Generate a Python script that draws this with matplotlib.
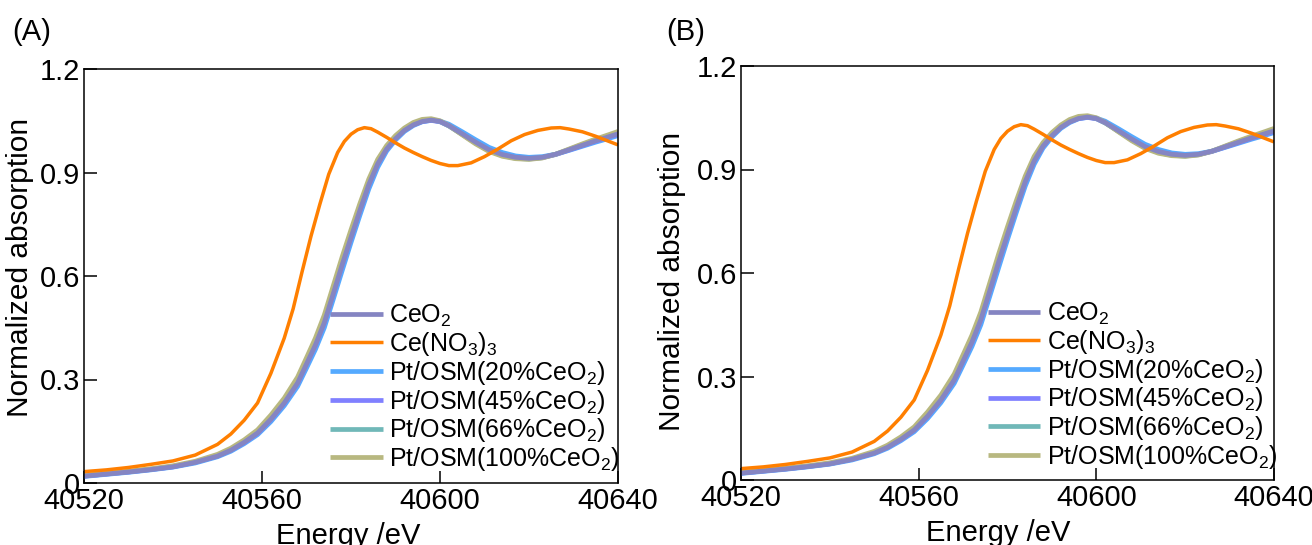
import numpy as np
import matplotlib
matplotlib.use("Agg")
import matplotlib.pyplot as plt

# ================== DATA ==================

energy = [40520, 40525, 40530, 40535, 40540, 40545, 40550, 40553, 40556, 40559,
          40562, 40565, 40568, 40570, 40572, 40574, 40576, 40578, 40580, 40582,
          40584, 40586, 40588, 40590, 40592, 40594, 40596, 40598, 40600, 40602,
          40605, 40608, 40611, 40614, 40617, 40620, 40623, 40626, 40629, 40632,
          40635, 40638, 40640]

ceo2 = [0.020, 0.026, 0.032, 0.039, 0.047, 0.060, 0.078, 0.095, 0.118, 0.145,
        0.185, 0.232, 0.290, 0.345, 0.400, 0.465, 0.548, 0.632, 0.712, 0.790,
        0.865, 0.925, 0.968, 0.998, 1.022, 1.038, 1.048, 1.052, 1.048, 1.036,
        1.012, 0.988, 0.966, 0.952, 0.944, 0.941, 0.944, 0.953, 0.966, 0.979,
        0.992, 1.004, 1.012]

osm_20 = [0.019, 0.025, 0.031, 0.038, 0.046, 0.058, 0.076, 0.092, 0.114, 0.140,
          0.178, 0.224, 0.280, 0.333, 0.387, 0.450, 0.532, 0.615, 0.697, 0.776,
          0.852, 0.915, 0.962, 0.994, 1.019, 1.036, 1.047, 1.051, 1.049, 1.040,
          1.018, 0.995, 0.973, 0.958, 0.948, 0.944, 0.946, 0.953, 0.964, 0.976,
          0.988, 0.999, 1.007]

osm_45 = [0.020, 0.026, 0.032, 0.039, 0.047, 0.060, 0.078, 0.095, 0.117, 0.144,
          0.184, 0.231, 0.289, 0.344, 0.399, 0.464, 0.547, 0.631, 0.711, 0.789,
          0.864, 0.924, 0.967, 0.998, 1.022, 1.038, 1.048, 1.051, 1.047, 1.035,
          1.011, 0.987, 0.965, 0.951, 0.943, 0.940, 0.943, 0.952, 0.965, 0.978,
          0.991, 1.003, 1.010]

osm_66 = [0.021, 0.027, 0.033, 0.040, 0.048, 0.061, 0.080, 0.097, 0.120, 0.148,
          0.189, 0.237, 0.296, 0.351, 0.407, 0.473, 0.556, 0.640, 0.720, 0.797,
          0.870, 0.929, 0.971, 1.001, 1.024, 1.040, 1.050, 1.053, 1.048, 1.035,
          1.010, 0.985, 0.963, 0.949, 0.941, 0.939, 0.943, 0.953, 0.967, 0.981,
          0.995, 1.007, 1.015]

osm_100 = [0.022, 0.028, 0.034, 0.041, 0.050, 0.063, 0.083, 0.101, 0.125, 0.154,
           0.197, 0.246, 0.307, 0.363, 0.420, 0.487, 0.571, 0.655, 0.734, 0.810,
           0.881, 0.938, 0.978, 1.007, 1.029, 1.045, 1.054, 1.056, 1.050, 1.036,
           1.009, 0.983, 0.961, 0.947, 0.940, 0.938, 0.942, 0.953, 0.968, 0.983,
           0.997, 1.010, 1.019]

# Ce(NO3)3 has its own, finer energy grid around the white line
energy_nitrate = [40520, 40525, 40530, 40535, 40540, 40545, 40550, 40553, 40556,
                  40559, 40562, 40565, 40567, 40569, 40571, 40573, 40575, 40577,
                  40578.5, 40580, 40581.5, 40583, 40584.5, 40586, 40588, 40590,
                  40592, 40594, 40596, 40598, 40600, 40602, 40604, 40607, 40610,
                  40613, 40616, 40619, 40622, 40625, 40627, 40629, 40632, 40635,
                  40638, 40640]

ce_nitrate = [0.033, 0.038, 0.045, 0.054, 0.064, 0.081, 0.112, 0.142, 0.182,
              0.232, 0.318, 0.420, 0.505, 0.612, 0.715, 0.808, 0.895, 0.958,
              0.990, 1.011, 1.024, 1.030, 1.027, 1.017, 1.002, 0.986,
              0.971, 0.958, 0.946, 0.935, 0.926, 0.920, 0.920, 0.928, 0.946,
              0.968, 0.992, 1.010, 1.022, 1.029, 1.030, 1.026, 1.018, 1.005,
              0.990, 0.980]

labels = ["CeO$_2$", "Ce(NO$_3$)$_3$", "Pt/OSM(20%CeO$_2$)",
          "Pt/OSM(45%CeO$_2$)", "Pt/OSM(66%CeO$_2$)", "Pt/OSM(100%CeO$_2$)"]
colors = ["#8585c2", "#ff7f00", "#55aaff", "#8080ff", "#70b8b8", "#b8b880"]

x_ticks = [40520, 40560, 40600, 40640]
y_ticks = [0, 0.3, 0.6, 0.9, 1.2]
y_ticklabels = ["0", "0.3", "0.6", "0.9", "1.2"]

# ================== STYLE ==================

plt.rcParams["font.family"] = ["Liberation Sans", "DejaVu Sans"]
plt.rcParams["mathtext.fontset"] = "custom"
plt.rcParams["mathtext.rm"] = "Liberation Sans"
plt.rcParams["mathtext.it"] = "Liberation Sans:italic"
plt.rcParams["mathtext.default"] = "regular"


def draw_panel(ax, ylab_x, ylab_y, xlab_x, leg_x, leg_y):
    xs = [energy, energy_nitrate, energy, energy, energy, energy]
    series = [ceo2, ce_nitrate, osm_20, osm_45, osm_66, osm_100]
    handles = [None] * 6
    # Pt/OSM curves first, CeO2 on top of them, nitrate last
    for i in [2, 3, 4, 5, 0, 1]:
        lw = 2.5 if i == 1 else 3.4
        (ln,) = ax.plot(xs[i], series[i], color=colors[i], lw=lw,
                        label=labels[i], solid_capstyle="butt",
                        solid_joinstyle="round")
        handles[i] = ln

    ax.set_xlim(40520, 40640)
    ax.set_ylim(0, 1.2)
    ax.set_xticks(x_ticks)
    ax.set_xticklabels([str(t) for t in x_ticks])
    ax.set_yticks(y_ticks)
    ax.set_yticklabels(y_ticklabels)
    ax.tick_params(direction="in", length=9, width=1.1, labelsize=21)
    ax.tick_params(axis="x", pad=3)
    ax.tick_params(axis="y", pad=3)
    for sp in ax.spines.values():
        sp.set_linewidth(1.1)

    ax.set_xlabel("Energy /eV", fontsize=21)
    ax.set_ylabel("Normalized absorption", fontsize=21.5)
    ax.yaxis.set_label_coords(ylab_x, ylab_y)
    ax.xaxis.set_label_coords(xlab_x, -0.093)

    ax.legend(handles=handles, loc="lower left", bbox_to_anchor=(leg_x, leg_y),
              frameon=False, fontsize=18, handlelength=2.1, handletextpad=0.25,
              labelspacing=0.03, borderpad=0, borderaxespad=0)


fig = plt.figure(figsize=(13.12, 5.45), dpi=100)

ax_a = fig.add_axes([84 / 1312, 1 - 483 / 545, 534 / 1312, 414 / 545])
draw_panel(ax_a, -0.094, 0.52, 0.494, 0.461, 0.024)

ax_b = fig.add_axes([741 / 1312, 1 - 480 / 545, 533 / 1312, 414 / 545])
draw_panel(ax_b, -0.103, 0.48, 0.482, 0.463, 0.022)

fig.text(12 / 1312, 1 - 40 / 545, "(A)", fontsize=21, va="baseline")
fig.text(666 / 1312, 1 - 40 / 545, "(B)", fontsize=21, va="baseline")

fig.savefig("out.png", dpi=100)
